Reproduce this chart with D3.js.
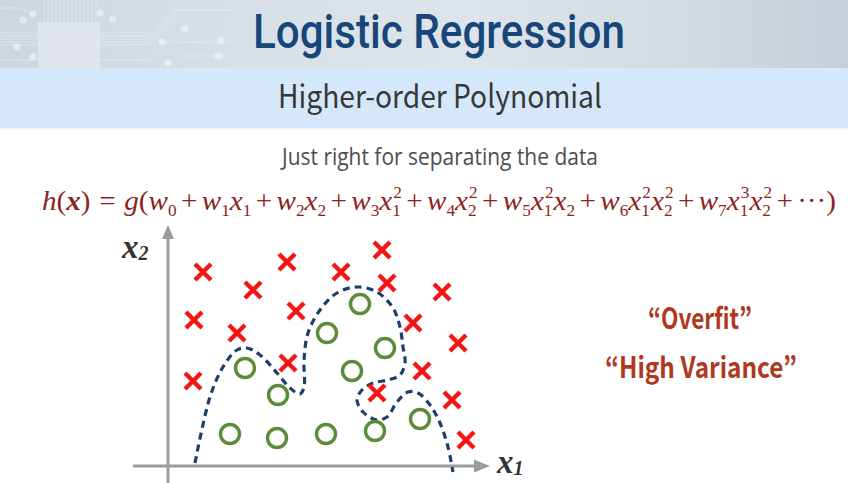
<!DOCTYPE html>
<html>
<head>
<meta charset="utf-8">
<script src="https://cdn.jsdelivr.net/npm/d3@7"></script>
<style>
  html, body { margin: 0; padding: 0; background: #ffffff; }
  svg { display: block; }
</style>
</head>
<body>
<svg id="chart" width="848" height="483"></svg>
<script>
// ---- data -------------------------------------------------------------
// class "×" samples (x1, x2)
const crossX1 = [3.5, 11.9, 8.5, 17.3, 21.4, 21.9, 2.6, 12.8, 6.9, 12.0, 2.5, 27.4, 24.5, 29.0, 25.4, 20.9, 28.4, 29.8];
const crossX2 = [19.4, 20.4, 17.6, 19.4, 21.6, 18.3, 14.6, 15.5, 13.3, 10.3, 8.5, 17.4, 14.3, 12.3, 9.5, 7.3, 6.6, 2.6];
// class "○" samples (x1, x2)
const circleX1 = [7.7, 11.0, 6.2, 10.9, 15.8, 20.7, 25.2, 19.2, 15.9, 21.7, 18.4];
const circleX2 = [9.8, 7.1, 3.2, 2.8, 3.2, 3.5, 4.7, 16.2, 13.3, 11.8, 9.5];
// decision boundary traced by the high-order polynomial
const boundaryX1 = [2.7, 4.2, 5.5, 6.9, 7.9, 9.2, 10.9, 12.2, 13.2, 13.6, 13.6, 14.0, 15.2, 16.9, 18.9, 20.9, 22.5, 23.2, 23.5, 23.7, 23.2, 22.0, 20.5, 19.4, 18.9, 19.5, 20.9, 21.9, 22.9, 24.0, 25.0, 26.2, 27.2, 28.0, 28.5];
const boundaryX2 = [0.3, 6.9, 9.9, 11.6, 11.8, 11.1, 9.3, 7.8, 7.2, 7.9, 10.6, 13.3, 15.6, 17.3, 17.9, 17.4, 15.8, 13.9, 11.9, 10.3, 9.1, 8.6, 8.3, 7.6, 6.6, 5.4, 4.6, 4.9, 6.4, 7.4, 7.3, 6.1, 4.3, 1.9, -0.6];

const titleText = "Logistic Regression";
const subtitleText = "Higher-order Polynomial";
const captionText = "Just right for separating the data";
const noteLines = ["\u201COverfit\u201D", "\u201CHigh Variance\u201D"];

// hypothesis: h(x) = g(w0 + w1x1 + ... )
const formulaParts = [
  {t: "h", s: "i"}, {t: "(", s: "r"}, {t: "x", s: "bi"}, {t: ")", s: "r"},
  {t: "=", s: "r", pad: 8}, {t: "g", s: "i"}, {t: "(", s: "r"},
  {t: "w", s: "i", sub: "0"}, {t: "+", s: "r", pad: 4},
  {t: "w", s: "i", sub: "1"}, {t: "x", s: "i", sub: "1"}, {t: "+", s: "r", pad: 4},
  {t: "w", s: "i", sub: "2"}, {t: "x", s: "i", sub: "2"}, {t: "+", s: "r", pad: 4},
  {t: "w", s: "i", sub: "3"}, {t: "x", s: "i", sub: "1", sup: "2"}, {t: "+", s: "r", pad: 4},
  {t: "w", s: "i", sub: "4"}, {t: "x", s: "i", sub: "2", sup: "2"}, {t: "+", s: "r", pad: 4},
  {t: "w", s: "i", sub: "5"}, {t: "x", s: "i", sub: "1", sup: "2"}, {t: "x", s: "i", sub: "2"}, {t: "+", s: "r", pad: 4},
  {t: "w", s: "i", sub: "6"}, {t: "x", s: "i", sub: "1", sup: "2"}, {t: "x", s: "i", sub: "2", sup: "2"}, {t: "+", s: "r", pad: 4},
  {t: "w", s: "i", sub: "7"}, {t: "x", s: "i", sub: "1", sup: "3"}, {t: "x", s: "i", sub: "2", sup: "2"}, {t: "+", s: "r", pad: 4},
  {t: "\u00B7\u00B7\u00B7", s: "r"}, {t: ")", s: "r"}
];

// ---- drawing ----------------------------------------------------------
const svg = d3.select("#chart");
const W = 848, H = 483;

const defs = svg.append("defs");
const hdr = defs.append("linearGradient").attr("id", "hdrGrad").attr("x1", 0).attr("x2", 1).attr("y1", 0).attr("y2", 0);
[[0, "#cdd6df"], [0.3, "#d8e0e8"], [0.55, "#dde4eb"], [0.8, "#d3dbe3"], [1, "#c5cfd9"]]
  .forEach(([o, c]) => hdr.append("stop").attr("offset", o).attr("stop-color", c));
defs.append("filter").attr("id", "soft").append("feGaussianBlur").attr("stdDeviation", 0.6);

// header strip
svg.append("rect").attr("x", 0).attr("y", 0).attr("width", W).attr("height", 68).attr("fill", "url(#hdrGrad)");

// faint circuit-board decoration in the header corner
const circ = svg.append("g").attr("stroke", "#ffffff").attr("fill", "none").attr("opacity", 0.3).attr("filter", "url(#soft)");
d3.range(44, 100, 4).forEach(x => circ.append("line").attr("x1", x).attr("y1", 0).attr("x2", x).attr("y2", 22).attr("stroke-width", 1));
[33, 36, 39, 42, 45, 60].forEach(y => {
  circ.append("line").attr("x1", 0).attr("y1", y).attr("x2", 38).attr("y2", y).attr("stroke-width", 1);
  circ.append("path").attr("d", `M100,${y} L150,${y} L${150 + (y - 10)},10 L230,10`).attr("stroke-width", 1);
});
circ.append("path").attr("d", "M0,8 L20,8 L32,14").attr("stroke-width", 1);
circ.append("path").attr("d", "M160,42 L230,42").attr("stroke-width", 1);
circ.append("path").attr("d", "M180,56 L230,56").attr("stroke-width", 1);
svg.append("rect").attr("x", 38).attr("y", 22).attr("width", 62).attr("height", 46)
  .attr("fill", "#e4e9ef").attr("opacity", 0.8).attr("filter", "url(#soft)");
const dots = svg.append("g").attr("fill", "#ffffff").attr("opacity", 0.45).attr("filter", "url(#soft)");
[[33, 14], [23, 20], [100, 13], [113, 19], [17, 47], [33, 57], [162, 42], [185, 29], [221, 41], [218, 56], [168, 63]]
  .forEach(([x, y]) => dots.append("circle").attr("cx", x).attr("cy", y).attr("r", 3.5));

// sub-title band
svg.append("rect").attr("x", 0).attr("y", 68).attr("width", W).attr("height", 60).attr("fill", "#d5e8fb");
svg.append("rect").attr("x", 0).attr("y", 128).attr("width", W).attr("height", 2).attr("fill", "#eef5fd");

// titles
svg.append("text").attr("x", 253).attr("y", 48)
  .attr("textLength", 372).attr("lengthAdjust", "spacingAndGlyphs")
  .style("font-family", "Roboto, 'Noto Sans', sans-serif").style("font-weight", 500)
  .style("font-size", "49px").attr("fill", "#17467a").text(titleText);

svg.append("text").attr("x", 278).attr("y", 108)
  .attr("textLength", 324).attr("lengthAdjust", "spacingAndGlyphs")
  .style("font-family", "'Noto Sans CJK KR', 'Noto Sans', sans-serif").style("font-weight", 400)
  .style("font-size", "32px").attr("fill", "#383838").text(subtitleText);

svg.append("text").attr("x", 282).attr("y", 165)
  .attr("textLength", 316).attr("lengthAdjust", "spacingAndGlyphs")
  .style("font-family", "'Open Sans', 'Noto Sans', sans-serif").style("font-weight", 400)
  .style("font-size", "23px").attr("fill", "#4d4d4d").text(captionText);

// hypothesis formula, laid out piece by piece then fitted to its span
const fg = svg.append("g").attr("fill", "#8e1f22").style("font-family", "'Liberation Serif', 'Times New Roman', serif");
const baseSize = 27, scriptSize = 16;
let cursor = 0;
formulaParts.forEach(p => {
  if (p.pad) cursor += p.pad;
  const t = fg.append("text").attr("x", cursor).attr("y", 0)
    .style("font-size", baseSize + "px")
    .style("font-style", p.s === "r" ? "normal" : "italic")
    .style("font-weight", p.s === "bi" ? "bold" : "normal")
    .text(p.t);
  cursor += t.node().getComputedTextLength();
  let adv = 0;
  if (p.sub) {
    const s = fg.append("text").attr("x", cursor).attr("y", 6).style("font-size", scriptSize + "px").text(p.sub);
    adv = Math.max(adv, s.node().getComputedTextLength());
  }
  if (p.sup) {
    const s = fg.append("text").attr("x", cursor + 1).attr("y", -12).style("font-size", scriptSize + "px").text(p.sup);
    adv = Math.max(adv, s.node().getComputedTextLength() + 1);
  }
  cursor += adv;
  if (p.pad) cursor += p.pad;
});
fg.attr("transform", `translate(42,210) scale(${794 / cursor},1)`);

// ---- plot -------------------------------------------------------------
const x = d3.scaleLinear().domain([0, 31]).range([168, 478]);
const y = d3.scaleLinear().domain([0, 24]).range([466, 226]);

const axisColor = "#9c9c9c";
const ax = svg.append("g");
ax.append("line").attr("x1", x(-3.5)).attr("x2", x(30.8)).attr("y1", y(0)).attr("y2", y(0))
  .attr("stroke", axisColor).attr("stroke-width", 3);
ax.append("path").attr("d", `M${x(30.6)},${y(0) - 6.5} L${x(32.2)},${y(0)} L${x(30.6)},${y(0) + 6.5} Z`).attr("fill", axisColor);
ax.append("line").attr("x1", x(0)).attr("x2", x(0)).attr("y1", H).attr("y2", y(22.9))
  .attr("stroke", axisColor).attr("stroke-width", 3);
ax.append("path").attr("d", `M${x(0) - 6},${y(22.7)} L${x(0)},${y(24.1)} L${x(0) + 6},${y(22.7)} Z`).attr("fill", axisColor);

// axis labels
const lab = svg.append("g").attr("fill", "#333333").style("font-family", "'Liberation Serif', 'Times New Roman', serif")
  .style("font-style", "italic").style("font-weight", "bold");
const l2 = lab.append("text").attr("x", 122).attr("y", 258);
l2.append("tspan").style("font-size", "33px").text("x");
l2.append("tspan").style("font-size", "20px").attr("dy", 2).text("2");
const l1 = lab.append("text").attr("x", 497).attr("y", 473);
l1.append("tspan").style("font-size", "33px").text("x");
l1.append("tspan").style("font-size", "20px").attr("dy", 2).text("1");

// decision boundary
const boundary = d3.zip(boundaryX1, boundaryX2);
svg.append("path").datum(boundary)
  .attr("d", d3.line().x(d => x(d[0])).y(d => y(d[1])).curve(d3.curveCatmullRom.alpha(0.5)))
  .attr("fill", "none").attr("stroke", "#1d3f6d").attr("stroke-width", 3.2)
  .attr("stroke-dasharray", "7 5");

// circles
svg.append("g").selectAll("circle").data(d3.zip(circleX1, circleX2)).join("circle")
  .attr("cx", d => x(d[0])).attr("cy", d => y(d[1])).attr("r", 9.5)
  .attr("fill", "none").attr("stroke", "#5a8c3a").attr("stroke-width", 3.4);

// crosses
const arm = 8;
svg.append("g").selectAll("path").data(d3.zip(crossX1, crossX2)).join("path")
  .attr("d", d => {
    const cx = x(d[0]), cy = y(d[1]);
    return `M${cx - arm},${cy - arm}L${cx + arm},${cy + arm}M${cx - arm},${cy + arm}L${cx + arm},${cy - arm}`;
  })
  .attr("stroke", "#f51515").attr("stroke-width", 4.4).attr("fill", "none");

// annotation
const notes = svg.append("g").attr("fill", "#b0381e")
  .style("font-family", "'Noto Sans CJK KR', 'Noto Sans', sans-serif").style("font-weight", 600).style("font-size", "29px");
notes.append("text").attr("x", 648).attr("y", 329).attr("textLength", 104).attr("lengthAdjust", "spacingAndGlyphs").text(noteLines[0]);
notes.append("text").attr("x", 605).attr("y", 378).attr("textLength", 192).attr("lengthAdjust", "spacingAndGlyphs").text(noteLines[1]);
</script>
</body>
</html>
